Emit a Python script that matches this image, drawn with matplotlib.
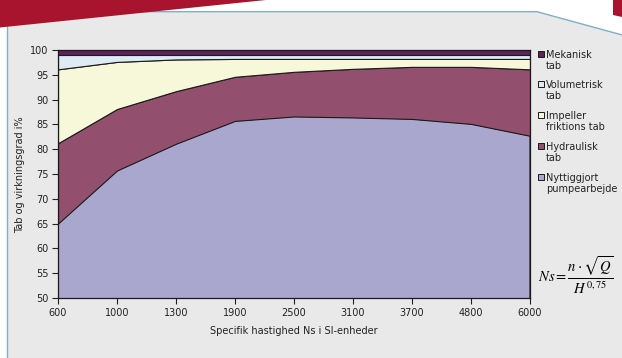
import numpy as np
import matplotlib.pyplot as plt
from matplotlib.patches import Polygon, Rectangle

# Data (stacked shares, each column sums to 100)
ns_labels = ['600', '1000', '1300', '1900', '2500', '3100', '3700', '4800', '6000']
nyttig = [65.0, 75.7, 81.1, 85.7, 86.6, 86.4, 86.1, 85.1, 82.7]
hydraulisk = [16.2, 12.4, 10.6, 8.9, 9.0, 9.8, 10.5, 11.5, 13.4]
impeller = [14.9, 9.5, 6.4, 3.6, 2.6, 2.0, 1.6, 1.6, 2.1]
volumetrisk = [2.9, 1.4, 0.9, 0.8, 0.8, 0.8, 0.8, 0.8, 0.8]
mekanisk = [1.0, 1.0, 1.0, 1.0, 1.0, 1.0, 1.0, 1.0, 1.0]

series_labels = ['Nyttiggjort\npumpearbejde', 'Hydraulisk\ntab', 'Impeller\nfriktions tab',
                 'Volumetrisk\ntab', 'Mekanisk\ntab']
colors = ['#a9a7cd', '#934f6e', '#f7f7da', '#deebf4', '#61205f']

W, H = 622, 358
bg_color = '#e9e9e9'
border_color = '#7fb0c8'
red_color = '#a8142e'
text_color = '#222222'

fig = plt.figure(figsize=(W / 100, H / 100), dpi=100, facecolor='white')


def px(x, y):
    return (x / W, 1 - y / H)


# Gray panel with the slanted top-right corner
panel_pts = [px(7.5, 360), px(7.5, 11.7), px(537, 11.7), px(624, 35.5), px(624, 360)]
fig.patches.append(Polygon(panel_pts, closed=True, transform=fig.transFigure,
                           facecolor=bg_color, edgecolor=border_color, linewidth=1.0, zorder=-3))
# Red decorations
fig.patches.append(Polygon([px(0, 0), px(266, 0), px(0, 27.5)], closed=True,
                           transform=fig.transFigure, facecolor=red_color, edgecolor='none', zorder=-2))
fig.patches.append(Polygon([px(613, 0), px(622, 0), px(622, 17), px(613, 15)], closed=True,
                           transform=fig.transFigure, facecolor=red_color, edgecolor='none', zorder=-2))

ax = fig.add_axes([58 / W, 1 - 298 / H, (530 - 58) / W, (298 - 50) / H])
ax.set_facecolor(bg_color)

x = np.arange(len(ns_labels))
ax.stackplot(x, nyttig, hydraulisk, impeller, volumetrisk, mekanisk,
             colors=colors, edgecolor='#1a1a1a', linewidth=0.8)

ax.set_xlim(0, len(ns_labels) - 1)
ax.set_ylim(50, 100)
ax.set_yticks(np.arange(50, 101, 5))
ax.set_xticks(x)
ax.set_xticklabels(ns_labels)
ax.tick_params(axis='both', direction='out', length=4, width=0.8, labelsize=7,
               colors=text_color, pad=3)
for s in ax.spines.values():
    s.set_color('#1a1a1a')
    s.set_linewidth(0.9)

ax.set_xlabel('Specifik hastighed Ns i SI-enheder', fontsize=7, color=text_color, labelpad=6)
fig.text(20 / W, 1 - 175 / H, 'Tab og virkningsgrad i%', rotation=90, fontsize=7,
         color=text_color, ha='center', va='center')

# Legend drawn manually so the box sits beside the first text line
legend_y = [54, 84, 115, 146, 177]
for yy, lab, col in zip(legend_y, series_labels[::-1], colors[::-1]):
    fig.patches.append(Rectangle(px(537.5, yy + 3), 6 / W, 6 / H, transform=fig.transFigure,
                                 facecolor=col, edgecolor='#1a1a1a', linewidth=0.7, zorder=3))
    fig.text(546 / W, 1 - (yy - 4) / H, lab, fontsize=7, color=text_color, va='top',
             ha='left', linespacing=1.15)

fig.text(576 / W, 1 - 275 / H, r'$Ns=\dfrac{n\cdot\sqrt{Q}}{H^{0,75}}$', fontsize=10.5,
         color='black', ha='center', va='center', math_fontfamily='stix')

fig.savefig('out.png', dpi=100, facecolor='white')
